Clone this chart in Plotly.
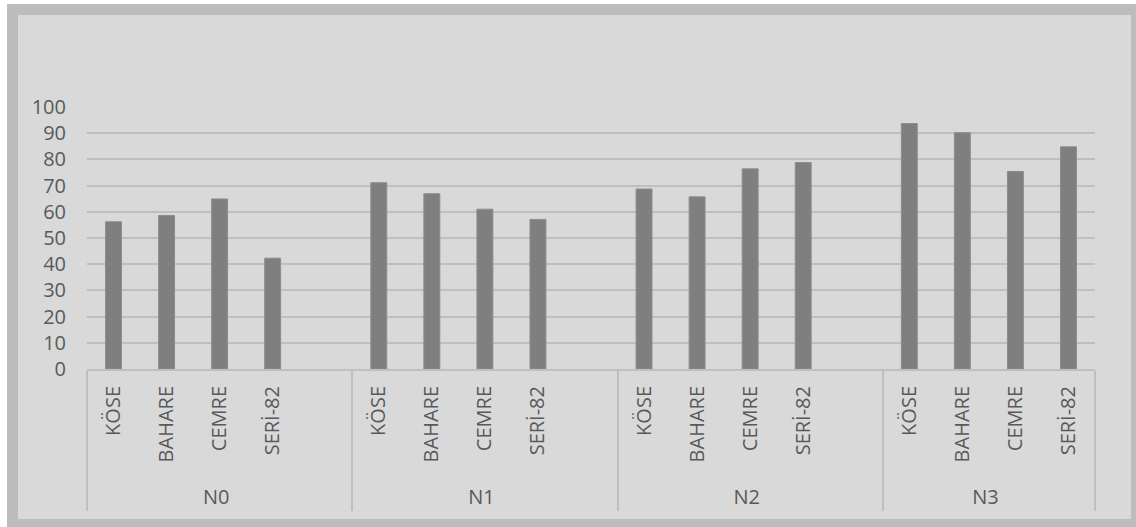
import plotly.graph_objects as go

# Treatment groups and varieties (a blank slot closes each of the first three groups)
groups = ["N0", "N1", "N2", "N3"]
varieties = ["KÖSE", "BAHARE", "CEMRE", "SERİ-82"]

n0_values = [56.2, 58.6, 64.9, 42.3]
n1_values = [71.1, 66.9, 61.0, 57.1]
n2_values = [68.7, 65.7, 76.4, 78.8]
n3_values = [93.7, 90.2, 75.4, 84.8]

y_ticks = [0, 10, 20, 30, 40, 50, 60, 70, 80, 90, 100]

series = [n0_values, n1_values, n2_values, n3_values]

# non-breaking spaces in front of the rotated names leave room above the group row
PAD = "\u00a0" * 2

outer, inner, vals = [], [], []
for gi, (g, values) in enumerate(zip(groups, series)):
    for v, val in zip(varieties, values):
        outer.append(g)
        inner.append(PAD + v)
        vals.append(val)
    if gi < len(groups) - 1:
        outer.append(g)
        inner.append(" ")
        vals.append(None)

W, H = 1136, 527
L, R, T, B = 87, 41, 107, 158
pw, ph = W - L - R, H - T - B


def px_x(p):
    return (p - L) / pw


def px_y(p):
    return (H - B - p) / ph


text_color = "#595959"
font_family = "Open Sans, Noto Sans, sans-serif"

fig = go.Figure()
fig.add_trace(go.Bar(
    x=[outer, inner],
    y=vals,
    marker=dict(color="#7f7f7f", line=dict(color="#8c8c8c", width=1)),
    showlegend=False,
))

# chart frame
fig.add_shape(
    type="rect", xref="paper", yref="paper",
    x0=px_x(12.5), x1=px_x(1136.5), y0=px_y(524.5), y1=px_y(9.5),
    line=dict(color="#bcbcbc", width=11), fillcolor="#d9d9d9", layer="below",
)

fig.update_layout(
    width=W, height=H,
    margin=dict(l=L, r=R, t=T, b=B),
    paper_bgcolor="white",
    plot_bgcolor="rgba(0,0,0,0)",
    bargap=0.7,
    font=dict(family=font_family, size=20, color=text_color),
)
fig.update_xaxes(
    type="multicategory",
    tickangle=-90,
    showline=True, linecolor="#bfbfbf", linewidth=2,
    showgrid=False,
    showdividers=True, dividercolor="#bfbfbf", dividerwidth=2,
    ticks="", ticklabelstandoff=7,
    tickfont=dict(size=20, color=text_color),
)
fig.update_yaxes(
    range=[0, 100],
    tickvals=y_ticks,
    showgrid=True, gridcolor="#bfbfbf", gridwidth=2,
    zeroline=False, showline=False,
    ticks="", ticklabelstandoff=20,
    tickfont=dict(size=20, color=text_color),
)

fig.write_html("out.html")
